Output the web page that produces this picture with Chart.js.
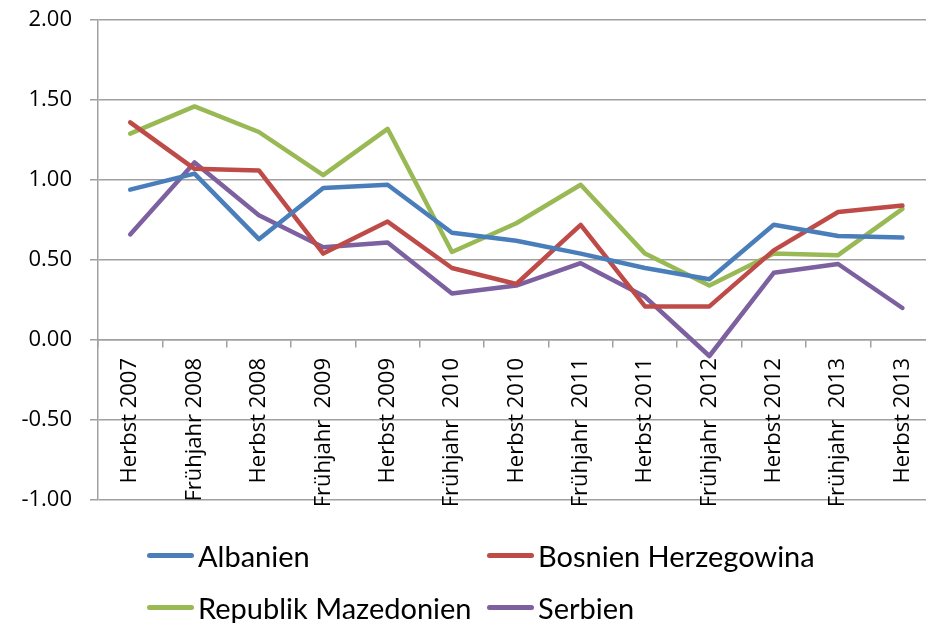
<!DOCTYPE html>
<html>
<head>
<meta charset="utf-8">
<script src="https://cdn.jsdelivr.net/npm/chart.js@4"></script>
<style>
    body { margin: 0; overflow: hidden; background: #fff; }
    #wrap { position: relative; width: 940px; height: 623px; }
    #legend { position: absolute; left: 0; top: 0; font-family: Lato, sans-serif; font-size: 29px; color: #000; }
    .item { position: absolute; display: flex; align-items: center; white-space: nowrap; height: 40px; }
    .swatch { width: 47px; height: 5px; border-radius: 3px; margin-right: 4px; }
</style>
</head>
<body>
<div id="wrap">
    <canvas id="chart"></canvas>
    <div id="legend"></div>
</div>
<script>
const GRID = "#a0a0a0"; // axis and gridline grey

const categories = [
    "Herbst 2007", "Frühjahr 2008", "Herbst 2008", "Frühjahr  2009", "Herbst 2009",
    "Frühjahr  2010", "Herbst 2010", "Frühjahr  2011", "Herbst 2011", "Frühjahr  2012",
    "Herbst 2012", "Frühjahr  2013", "Herbst 2013"
];

const albanien = [0.94, 1.04, 0.63, 0.95, 0.97, 0.67, 0.62, 0.54, 0.45, 0.38, 0.72, 0.65, 0.64];
const bosnien = [1.36, 1.07, 1.06, 0.54, 0.74, 0.45, 0.35, 0.72, 0.21, 0.21, 0.56, 0.80, 0.84];
const mazedonien = [1.29, 1.46, 1.30, 1.03, 1.32, 0.55, 0.73, 0.97, 0.54, 0.34, 0.54, 0.53, 0.82];
const serbien = [0.66, 1.11, 0.78, 0.58, 0.61, 0.29, 0.34, 0.48, 0.27, -0.10, 0.42, 0.475, 0.20];

const seriesNames = ["Albanien", "Bosnien Herzegowina", "Republik Mazedonien", "Serbien"];
const seriesColors = ["#4a7ebb", "#be4b48", "#98b954", "#7d60a0"];
const seriesValues = [albanien, bosnien, mazedonien, serbien];

const yTicks = { min: -1, max: 2, step: 0.5 };

const tickFont = { family: "'Open Sans', sans-serif", size: 22 };

const datasets = seriesNames.map((name, i) => ({
    label: name,
    data: seriesValues[i],
    borderColor: seriesColors[i],
    backgroundColor: seriesColors[i],
    borderWidth: 4.5,
    borderJoinStyle: "round",
    borderCapStyle: "round",
    pointRadius: 0,
    tension: 0,
    fill: false
}));

const ctx = document.getElementById("chart").getContext("2d");
new Chart(ctx, {
    type: "line",
    data: { labels: categories, datasets: datasets },
    options: {
        responsive: true,
        maintainAspectRatio: false,
        animation: false,
        layout: { padding: { top: 20, right: 4, bottom: 123, left: 0 } },
        plugins: {
            legend: { display: false },
            tooltip: { enabled: false }
        },
        scales: {
            x: {
                type: "category",
                position: { y: 0 },
                offset: true,
                grid: {
                    drawOnChartArea: false,
                    drawTicks: true,
                    tickLength: 7,
                    color: GRID,
                    lineWidth: 1.5,
                    offset: true
                },
                border: { display: true, color: GRID, width: 1.5 },
                ticks: {
                    autoSkip: false,
                    minRotation: 90,
                    maxRotation: 90,
                    padding: 11,
                    color: "#000",
                    font: tickFont
                }
            },
            y: {
                min: yTicks.min,
                max: yTicks.max,
                ticks: {
                    stepSize: yTicks.step,
                    padding: 18,
                    color: "#000",
                    font: tickFont,
                    callback: v => v.toFixed(2)
                },
                grid: { color: GRID, lineWidth: 1.5, tickLength: 8 },
                border: { color: GRID, width: 1.5 },
                afterFit: scale => {
                    scale.width = 98;
                    // label padding would otherwise push the plot top down
                    scale.paddingTop = 0;
                    scale.paddingBottom = 0;
                }
            }
        }
    }
});

// Legend in two aligned columns below the plot
const legend = document.getElementById("legend");
const colX = [147, 487];
const rowY = [555, 607];
seriesNames.forEach((name, i) => {
    const item = document.createElement("div");
    item.className = "item";
    item.style.left = colX[i % 2] + "px";
    item.style.top = (rowY[Math.floor(i / 2)] - 20) + "px";
    item.innerHTML = `<span class="swatch" style="background:${seriesColors[i]}"></span><span>${name}</span>`;
    legend.appendChild(item);
});
</script>
</body>
</html>
